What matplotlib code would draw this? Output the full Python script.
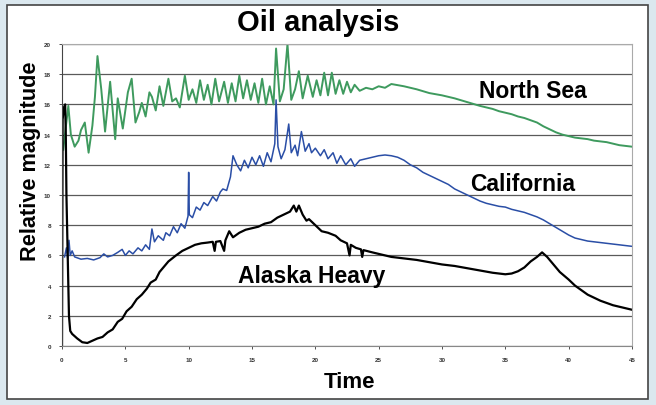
import matplotlib
matplotlib.use('Agg')
import matplotlib.pyplot as plt
from matplotlib.patches import Rectangle

plt.rcParams['font.family'] = ['Liberation Sans', 'DejaVu Sans']

# ── data ─────────────────────────────────────────────────
north_t = [0.1, 0.3, 0.5, 0.7, 1.0, 1.3, 1.5, 1.8, 2.1, 2.4, 2.6, 2.8, 3.1, 3.4, 3.8,
           4.2, 4.4, 4.8, 5.2, 5.5, 5.8, 6.1, 6.3, 6.6, 6.9, 7.1, 7.4, 7.7, 8.0, 8.4,
           8.7, 9.0, 9.3, 9.7, 10.0, 10.3, 10.6, 10.9, 11.2, 11.5, 11.8, 12.1, 12.4,
           12.8, 13.1, 13.4, 13.7, 14.0, 14.3, 14.6, 14.9, 15.2, 15.5, 15.8, 16.1,
           16.4, 16.7, 16.9, 17.2, 17.5, 17.8, 18.1, 18.4, 18.7, 19.0, 19.4, 19.8,
           20.1, 20.4, 20.7, 21.0, 21.3, 21.6, 21.9, 22.2, 22.5, 22.8, 23.1, 23.5,
           24.0, 24.5, 25.0, 25.5, 26.0, 27.0, 28.0, 29.0, 30.0, 31.0, 32.0, 33.0,
           33.5, 34.0, 34.5, 35.0, 35.5, 36.0, 36.5, 37.0, 37.5, 38.0, 38.5, 39.0,
           39.5, 40.0, 40.5, 41.0, 41.5, 42.0, 42.5, 43.0, 43.5, 44.0, 44.5, 45.0]
north_v = [13.0, 14.5, 15.9, 14.0, 13.2, 13.6, 14.3, 14.8, 12.8, 14.6, 16.5, 19.2, 17.0, 14.2, 17.5,
           13.7, 16.4, 14.4, 16.8, 17.7, 14.8, 15.5, 16.1, 15.2, 16.8, 16.5, 15.6, 17.2, 15.9, 17.7,
           16.2, 16.4, 15.8, 17.9, 16.3, 17.0, 16.1, 17.6, 16.3, 17.3, 16.0, 17.7, 16.2,
           17.5, 16.1, 17.4, 16.2, 17.9, 16.4, 17.6, 16.3, 17.4, 16.1, 17.7, 16.0,
           17.2, 16.0, 19.7, 16.2, 17.0, 20.0, 16.3, 17.0, 18.2, 16.4, 17.9, 16.5,
           17.6, 16.6, 18.1, 16.6, 18.1, 16.7, 17.6, 16.7, 17.5, 16.8, 17.3, 16.9,
           17.1, 17.0, 17.2, 17.1, 17.35, 17.2, 17.0, 16.75, 16.6, 16.4, 16.15, 15.9,
           15.8, 15.7, 15.55, 15.45, 15.35, 15.2, 15.1, 14.95, 14.8, 14.55, 14.35, 14.15,
           14.0, 13.9, 13.8, 13.75, 13.7, 13.6, 13.55, 13.5, 13.4, 13.3, 13.25, 13.2]

calif_t = [0.2, 0.35, 0.45, 0.55, 0.65, 0.8, 1.0, 1.5, 2.0, 2.5, 3.0, 3.3, 3.6, 4.0, 4.4,
           4.75, 5.0, 5.3, 5.6, 6.0, 6.3, 6.6, 6.9, 7.1, 7.3, 7.6, 8.0, 8.2, 8.5, 8.8,
           9.1, 9.4, 9.7, 9.95, 10.0, 10.05, 10.3, 10.6, 10.9, 11.2, 11.5, 11.9, 12.2,
           12.5, 12.7, 13.0, 13.3, 13.5, 13.8, 14.1, 14.4, 14.7, 15.0, 15.3, 15.6,
           15.9, 16.2, 16.5, 16.8, 16.9, 17.05, 17.3, 17.6, 17.9, 18.1, 18.4, 18.6,
           18.9, 19.2, 19.5, 19.7, 20.0, 20.4, 20.7, 21.0, 21.4, 21.7, 22.0, 22.4,
           22.8, 23.1, 23.5, 24.0, 24.5, 25.0, 25.5, 26.0, 26.5, 27.0, 27.5, 28.0,
           28.5, 29.0, 29.5, 30.0, 30.5, 31.0, 31.5, 32.0, 32.5, 33.0, 33.5, 34.0,
           34.5, 35.0, 35.5, 36.0, 36.5, 37.0, 37.5, 38.0, 38.5, 39.0, 39.5, 40.0,
           40.5, 41.0, 41.5, 42.0, 42.5, 43.0, 43.5, 44.0, 44.5, 45.0]
calif_v = [5.9, 6.5, 5.8, 7.0, 6.0, 6.3, 5.9, 5.75, 5.8, 5.7, 5.85, 6.1, 5.9, 6.0, 6.2,
           6.4, 6.0, 6.3, 6.1, 6.5, 6.3, 6.7, 6.4, 7.75, 6.9, 7.3, 7.0, 7.5, 7.3, 7.9,
           7.5, 8.1, 7.8, 8.6, 11.5, 8.7, 8.5, 9.2, 9.0, 9.5, 9.3, 9.9, 9.6,
           10.2, 10.4, 10.3, 11.2, 12.6, 12.0, 11.6, 12.3, 11.8, 12.5, 12.0, 12.6,
           11.9, 12.8, 12.2, 13.4, 16.3, 13.2, 12.4, 13.0, 14.7, 12.8, 13.3, 12.6,
           14.2, 12.9, 13.4, 12.8, 13.1, 12.6, 13.0, 12.4, 12.8, 12.1, 12.6, 12.0,
           12.4, 11.9, 12.3, 12.4, 12.5, 12.6, 12.65, 12.6, 12.5, 12.3, 12.0, 11.8,
           11.5, 11.3, 11.1, 10.9, 10.7, 10.4, 10.2, 10.0, 9.8, 9.6, 9.45, 9.35,
           9.25, 9.2, 9.05, 8.95, 8.85, 8.7, 8.55, 8.35, 8.1, 7.85, 7.6, 7.35,
           7.15, 7.05, 6.95, 6.9, 6.85, 6.8, 6.75, 6.7, 6.65, 6.6]

alaska_t = [0.0, 0.05, 0.15, 0.25, 0.3, 0.35, 0.45, 0.55, 0.65, 0.8, 1.2, 1.6, 2.0, 2.4,
            2.8, 3.2, 3.6, 4.0, 4.4, 4.75, 5.1, 5.5, 5.9, 6.3, 6.7, 7.0, 7.4, 7.7, 8.0,
            8.4, 8.7, 9.0, 9.5, 10.0, 10.5, 11.0, 11.5, 11.9, 12.05, 12.15, 12.5, 12.8,
            12.9, 13.2, 13.5, 14.0, 14.5, 15.0, 15.5, 16.0, 16.5, 17.0, 17.5, 18.0,
            18.3, 18.5, 18.7, 19.0, 19.3, 19.5, 20.0, 20.5, 21.0, 21.6, 22.0, 22.5,
            22.7, 22.8, 23.2, 23.6, 23.7, 23.8, 24.5, 25.0, 26.0, 27.0, 28.0, 29.0,
            30.0, 31.0, 32.0, 33.0, 34.0, 35.0, 35.5, 36.0, 36.5, 37.0, 37.5, 37.9,
            38.3, 38.8, 39.3, 40.0, 40.5, 41.0, 41.5, 42.0, 42.5, 43.0, 43.5, 44.0,
            44.5, 45.0]
alaska_v = [0.0, 15.0, 15.8, 16.0, 14.0, 10.0, 6.0, 2.0, 1.0, 0.8, 0.5, 0.25, 0.2, 0.35,
            0.5, 0.6, 0.9, 1.1, 1.6, 1.8, 2.3, 2.6, 3.1, 3.4, 3.8, 4.2, 4.4, 4.9, 5.2,
            5.6, 5.8, 6.0, 6.3, 6.5, 6.7, 6.8, 6.85, 6.9, 6.3, 6.9, 6.95, 6.3,
            7.0, 7.6, 7.2, 7.5, 7.7, 7.8, 7.9, 8.1, 8.2, 8.5, 8.7, 8.9,
            9.3, 8.9, 9.3, 8.7, 8.3, 8.4, 8.0, 7.6, 7.5, 7.3, 7.0, 6.8,
            6.0, 6.7, 6.5, 6.4, 5.9, 6.35, 6.2, 6.1, 5.9, 5.8, 5.7, 5.55,
            5.4, 5.3, 5.15, 5.0, 4.85, 4.75, 4.8, 4.95, 5.2, 5.6, 5.9, 6.2,
            5.9, 5.4, 4.9, 4.4, 4.0, 3.7, 3.4, 3.2, 3.0, 2.85, 2.7, 2.6,
            2.5, 2.4]

x_ticks = [0, 5, 10, 15, 20, 25, 30, 35, 40, 45]
y_ticks = [0, 2, 4, 6, 8, 10, 12, 14, 16, 18, 20]

# ── figure ──────────────────────────────
fig = plt.figure(figsize=(6.56, 4.06), dpi=100)
fig.patch.set_facecolor('#dbe8ef')
# white panel with dark frame, kept behind the axes
fig.patches.append(Rectangle((7 / 656, 6 / 406), 641 / 656, 394 / 406, transform=fig.transFigure,
                             facecolor='white', edgecolor='#444444', linewidth=1.2, zorder=-5))

ax = fig.add_axes([62 / 656, 59 / 406, 570 / 656, 302 / 406])
ax.set_zorder(1)
ax.set_facecolor('white')

ax.plot(north_t, north_v, color='#3e9a5e', linewidth=1.4)
ax.plot(calif_t, calif_v, color='#2a4ea6', linewidth=1.1)
ax.plot(alaska_t, alaska_v, color='black', linewidth=1.6)

ax.set_xlim(0, 45)
ax.set_ylim(0, 20)
ax.set_xticks(x_ticks)
ax.set_yticks(y_ticks)
ax.tick_params(labelsize=4.5, length=2, width=0.6, colors='#333333', pad=6)
for lbl in ax.get_xticklabels() + ax.get_yticklabels():
    lbl.set_fontweight('bold')

ax.yaxis.grid(True, color='#5a5a5a', linewidth=0.9)
ax.set_axisbelow(True)
ax.spines['left'].set_color('#444444')
ax.spines['bottom'].set_color('#888888')
ax.spines['top'].set_color('#aaaaaa')
ax.spines['right'].set_color('#aaaaaa')

# series labels
ax.text(37.2, 16.95, 'North Sea', fontsize=16.5, fontweight='bold', ha='center', va='center')
ax.text(36.4, 10.76, 'California', fontsize=16.5, fontweight='bold', ha='center', va='center')
ax.text(19.7, 4.7, 'Alaska Heavy', fontsize=16.5, fontweight='bold', ha='center', va='center')

fig.text(318 / 656, 1 - 23 / 406, 'Oil analysis', fontsize=21, fontweight='bold',
         ha='center', va='center')
fig.text(350 / 656, 1 - 383 / 406, 'Time', fontsize=16, fontweight='bold',
         ha='center', va='center')
fig.text(31 / 656, 1 - 161 / 406, 'Relative magnitude', fontsize=15.7, fontweight='bold',
         ha='center', va='center', rotation=90)

plt.savefig('out.png', dpi=100, facecolor=fig.get_facecolor())
